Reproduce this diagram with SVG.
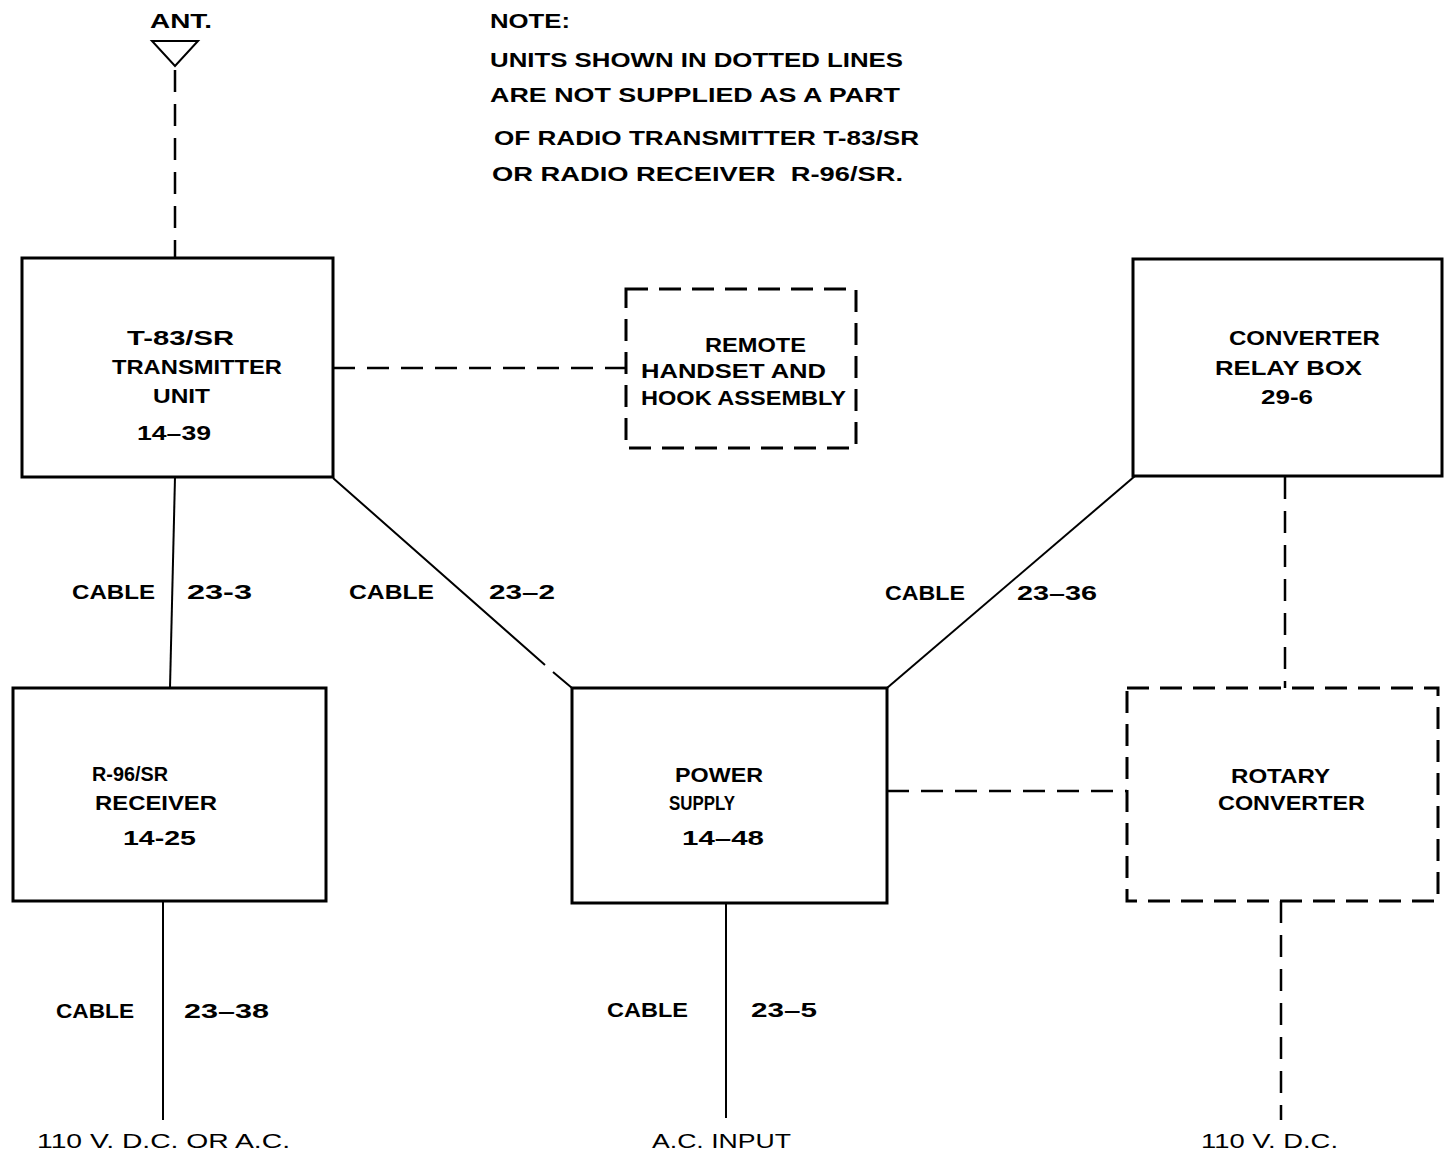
<svg xmlns="http://www.w3.org/2000/svg" width="1445" height="1154" viewBox="0 0 1445 1154">
<style>
text{font-family:"Liberation Sans",Arial,sans-serif;font-weight:bold;font-size:21px;fill:#000}
.box{fill:none;stroke:#000;stroke-width:3}
.dbox{fill:none;stroke:#000;stroke-width:3;stroke-dasharray:22 11}
.w{fill:none;stroke:#000;stroke-width:2}
.d{fill:none;stroke:#000;stroke-width:2.5;stroke-dasharray:22 12}
</style>
<rect width="1445" height="1154" fill="#fff"/>
<g id="note">
<text x="490" y="28" textLength="80" lengthAdjust="spacingAndGlyphs">NOTE:</text>
<text x="490" y="67" textLength="413" lengthAdjust="spacingAndGlyphs">UNITS SHOWN IN DOTTED LINES</text>
<text x="490" y="102" textLength="410" lengthAdjust="spacingAndGlyphs">ARE NOT SUPPLIED AS A PART</text>
<text x="494" y="145" textLength="425" lengthAdjust="spacingAndGlyphs">OF RADIO TRANSMITTER T-83/SR</text>
<text x="492" y="181" textLength="411" lengthAdjust="spacingAndGlyphs">OR RADIO RECEIVER&#160;&#160;R-96/SR.</text>
</g>
<g id="antenna">
<text x="150" y="28" textLength="62" lengthAdjust="spacingAndGlyphs">ANT.</text>
<path class="w" d="M152 41 L198 41 L175 66 Z" stroke-width="2.5"/>
</g>
<g id="transmitter">
<rect class="box" x="22" y="258" width="311" height="219"/>
<text x="127" y="345" textLength="107" lengthAdjust="spacingAndGlyphs">T-83/SR</text>
<text x="112" y="374" textLength="170" lengthAdjust="spacingAndGlyphs">TRANSMITTER</text>
<text x="153" y="403" textLength="57" lengthAdjust="spacingAndGlyphs">UNIT</text>
<text x="137" y="440" textLength="74" lengthAdjust="spacingAndGlyphs">14–39</text>
</g>
<g id="remote">
<rect class="dbox" x="626" y="289" width="230" height="159"/>
<text x="705" y="352" textLength="101" lengthAdjust="spacingAndGlyphs">REMOTE</text>
<text x="641" y="378" textLength="185" lengthAdjust="spacingAndGlyphs">HANDSET AND</text>
<text x="641" y="405" textLength="205" lengthAdjust="spacingAndGlyphs">HOOK ASSEMBLY</text>
</g>
<g id="relaybox">
<rect class="box" x="1133" y="259" width="309" height="217"/>
<text x="1229" y="345" textLength="151" lengthAdjust="spacingAndGlyphs">CONVERTER</text>
<text x="1215" y="375" textLength="147" lengthAdjust="spacingAndGlyphs">RELAY BOX</text>
<text x="1261" y="404" textLength="52" lengthAdjust="spacingAndGlyphs">29-6</text>
</g>
<g id="receiver">
<rect class="box" x="13" y="688" width="313" height="213"/>
<text x="92" y="781" textLength="76" lengthAdjust="spacingAndGlyphs">R-96/SR</text>
<text x="95" y="810" textLength="122" lengthAdjust="spacingAndGlyphs">RECEIVER</text>
<text x="123" y="845" textLength="73" lengthAdjust="spacingAndGlyphs">14-25</text>
</g>
<g id="powersupply">
<rect class="box" x="572" y="688" width="315" height="215"/>
<text x="675" y="782" textLength="88" lengthAdjust="spacingAndGlyphs">POWER</text>
<text x="669" y="810" textLength="66" lengthAdjust="spacingAndGlyphs">SUPPLY</text>
<text x="682" y="845" textLength="82" lengthAdjust="spacingAndGlyphs">14–48</text>
</g>
<g id="rotary">
<rect class="dbox" x="1127" y="688" width="311" height="213"/>
<text x="1231" y="783" textLength="99" lengthAdjust="spacingAndGlyphs">ROTARY</text>
<text x="1218" y="810" textLength="147" lengthAdjust="spacingAndGlyphs">CONVERTER</text>
</g>
<g id="connectors">
<line class="d" x1="175" y1="70" x2="175" y2="258"/>
<line class="d" x1="333" y1="368" x2="626" y2="368"/>
<line class="w" x1="175" y1="477" x2="170" y2="688"/>
<path class="w" d="M333 478 L545 665 M553 672 L572 688"/>
<line class="w" x1="1135" y1="476" x2="887" y2="688"/>
<line class="d" x1="1285" y1="477" x2="1285" y2="688"/>
<line class="d" x1="887" y1="791" x2="1127" y2="791"/>
<line class="w" x1="163" y1="901" x2="163" y2="1120"/>
<line class="w" x1="726" y1="903" x2="726" y2="1118"/>
<line class="d" x1="1281" y1="901" x2="1281" y2="1120"/>
</g>
<g id="labels">
<text x="72" y="599" textLength="83" lengthAdjust="spacingAndGlyphs">CABLE</text>
<text x="187" y="599" textLength="65" lengthAdjust="spacingAndGlyphs">23-3</text>
<text x="349" y="599" textLength="85" lengthAdjust="spacingAndGlyphs">CABLE</text>
<text x="489" y="599" textLength="66" lengthAdjust="spacingAndGlyphs">23–2</text>
<text x="885" y="600" textLength="80" lengthAdjust="spacingAndGlyphs">CABLE</text>
<text x="1017" y="600" textLength="80" lengthAdjust="spacingAndGlyphs">23–36</text>
<text x="56" y="1018" textLength="78" lengthAdjust="spacingAndGlyphs">CABLE</text>
<text x="184" y="1018" textLength="85" lengthAdjust="spacingAndGlyphs">23–38</text>
<text x="607" y="1017" textLength="81" lengthAdjust="spacingAndGlyphs">CABLE</text>
<text x="751" y="1017" textLength="66" lengthAdjust="spacingAndGlyphs">23–5</text>
<text x="37" y="1148" textLength="253" lengthAdjust="spacingAndGlyphs" style="font-weight:normal">110 V. D.C. OR A.C.</text>
<text x="652" y="1148" textLength="139" lengthAdjust="spacingAndGlyphs" style="font-weight:normal">A.C. INPUT</text>
<text x="1201" y="1148" textLength="137" lengthAdjust="spacingAndGlyphs" style="font-weight:normal">110 V. D.C.</text>
</g>
</svg>
